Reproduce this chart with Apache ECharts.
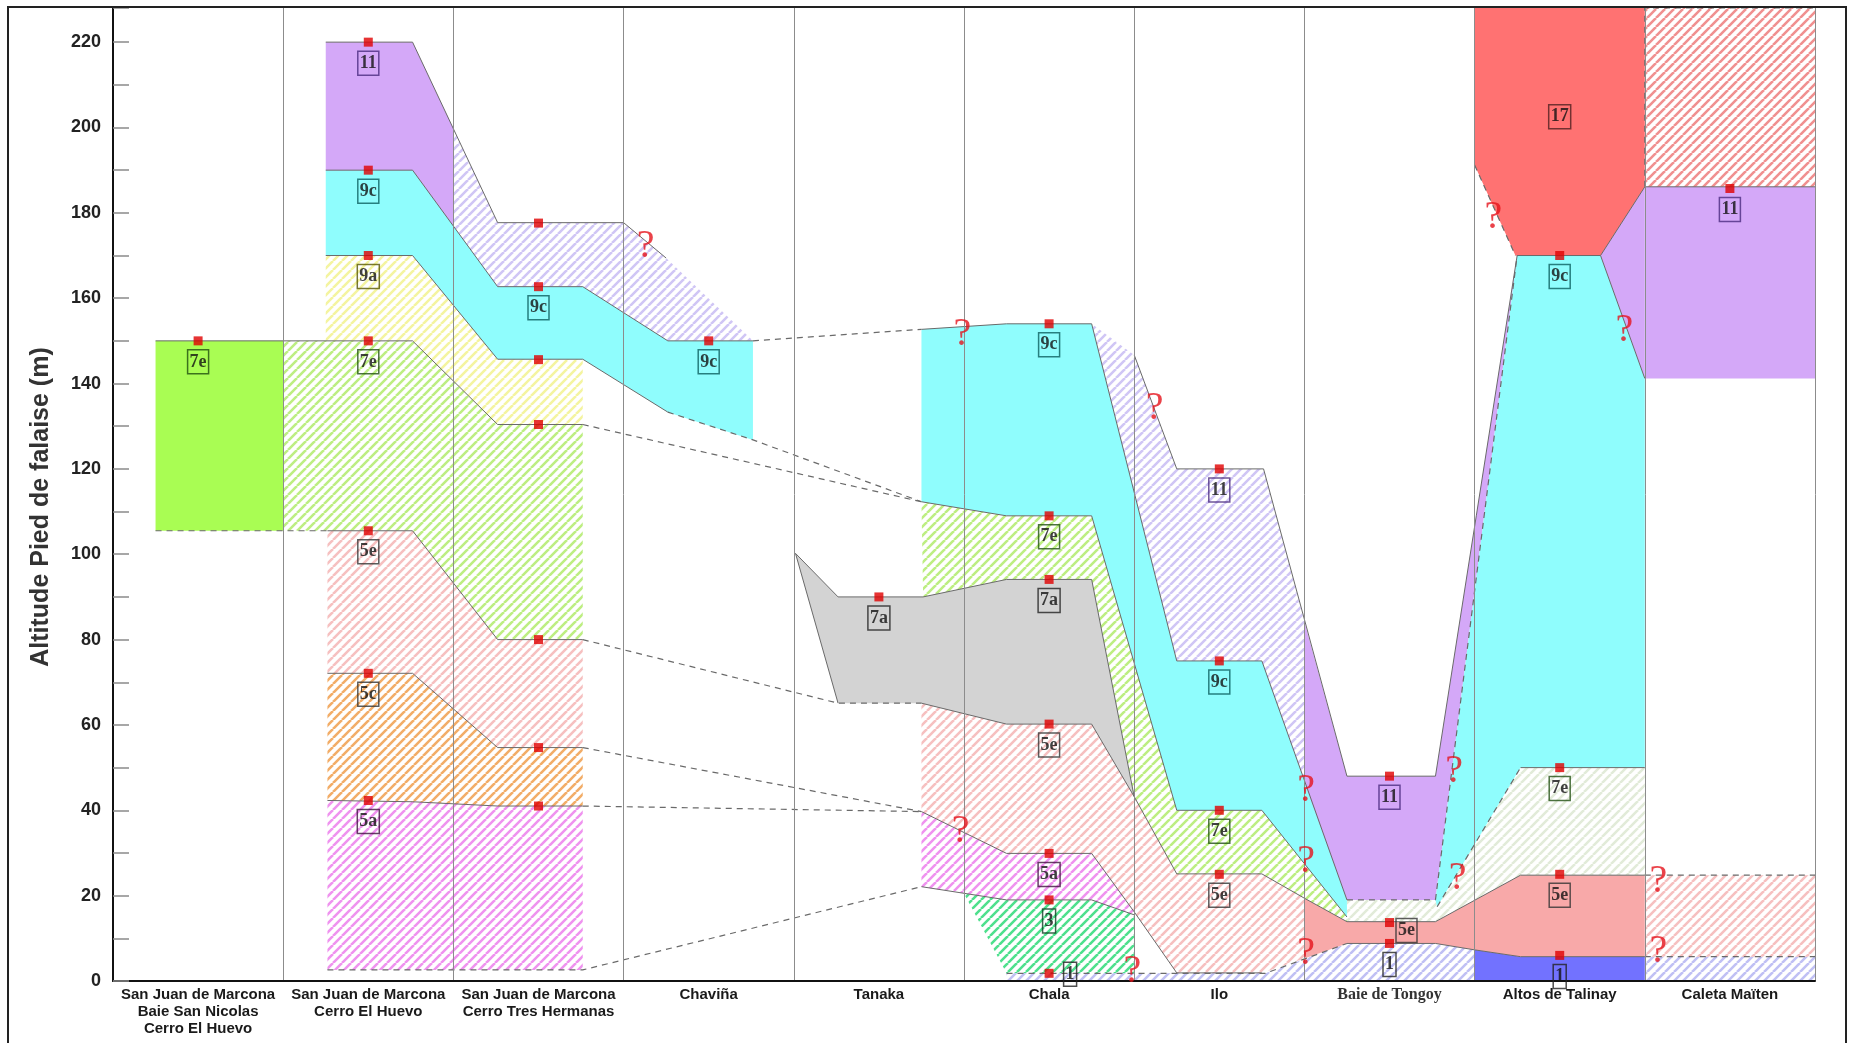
<!DOCTYPE html>
<html>
<head>
<meta charset="utf-8">
<script src="https://cdn.jsdelivr.net/npm/echarts@6/dist/echarts.min.js"></script>
<style>html,body{margin:0;padding:0;background:#fff}#c{width:1851px;height:1043px}</style>
</head>
<body>
<div id="c"></div>
<script>
// ---------- categories / axis ----------
const sites = ['San Juan de Marcona\nBaie San Nicolas\nCerro El Huevo', 'San Juan de Marcona\nCerro El Huevo',
  'San Juan de Marcona\nCerro Tres Hermanas', 'Chaviña', 'Tanaka', 'Chala', 'Ilo', 'Baie de Tongoy',
  'Altos de Talinay', 'Caleta Maïten'];
const yMax = 228;
const yName = 'Altitude Pied de falaise (m)';

// ---------- layer outlines (x in site units: site i spans [i, i+1]; y in m) ----------
const P7eBaie = [[0.25,150],[1,150],[1,105.5],[0.25,105.5]];
const P7eHuevo = [[1,150],[1.76,150],[2.26,130.4],[2.76,130.4],[2.76,80],[2.26,80],[1.76,105.5],[1,105.5]];
const P9aNorth = [[1.25,170],[1.76,170],[2.26,145.7],[2.76,145.7],[2.76,130.4],[2.26,130.4],[1.76,150],[1.25,150]];
const P9cNorth = [[1.25,190],[1.76,190],[2.26,162.7],[2.76,162.7],[3.26,150],[3.76,150],[3.76,126.8],[3.26,133.3],[2.76,145.7],[2.26,145.7],[1.76,170],[1.25,170]];
const P11North = [[1.25,220],[1.76,220],[2.26,177.7],[3.0,177.7],[3.25,169.4],[3.76,150],[3.26,150],[2.76,162.7],[2.26,162.7],[1.76,190],[1.25,190]];
const P5eNorth = [[1.26,105.5],[1.76,105.5],[2.26,80],[2.76,80],[2.76,54.7],[2.26,54.7],[1.76,72.1],[1.26,72.1]];
const P5cNorth = [[1.26,72.1],[1.76,72.1],[2.26,54.7],[2.76,54.7],[2.76,41],[2.26,41],[1.76,42],[1.26,42.3]];
const P5aNorth = [[1.26,42.3],[1.76,42],[2.26,41],[2.76,41],[2.76,2.6],[1.26,2.6]];
const P7a = [[4.01,100.2],[4.26,90],[4.76,90],[5.25,94.1],[5.75,94.1],[6.0,43.2],[5.75,60.2],[5.25,60.2],[4.75,65.1],[4.26,65.1]];
const P9cSouth = [[4.75,152.7],[5.25,154],[5.75,154],[6.25,75],[6.75,75],[7.25,19],[7.25,15],[6.75,40],[6.25,40],[5.75,109],[5.25,109],[4.75,112.3]];
const P7eSouth = [[4.75,112.3],[5.25,109],[5.75,109],[6.25,40],[6.75,40],[7.25,15],[7.25,13.9],[7.0,19.4],[6.75,25.1],[6.25,25.1],[6.0,43.2],[5.75,94.1],[5.25,94.1],[4.76,90]];
const P5eSouth = [[4.75,65.1],[5.25,60.2],[5.75,60.2],[6.0,43.2],[6.25,25.1],[6.75,25.1],[7.0,19.4],[7.0,5.3],[6.75,1.9],[6.25,1.9],[6.0,16.2],[5.75,29.9],[5.25,29.9],[4.75,39.7]];
const P5aSouth = [[4.75,39.7],[5.25,29.9],[5.75,29.9],[6.0,16.2],[6.0,15.5],[5.75,19],[5.25,19],[4.75,22.1]];
const P3Chala = [[5.0,20.5],[5.25,19],[5.75,19],[6.0,15.5],[6.25,1.8],[5.25,1.8]];
const P1Hatch = [[5.25,1.8],[6.77,1.8],[7.25,8.8],[7.77,8.8],[8.0,7.3],[8.0,0],[5.25,0]];
const P1Caleta = [[9,5.7],[10,5.7],[10,0],[9,0]];
const P1Talinay = [[8,7.3],[8.27,5.7],[9,5.7],[9,0],[8,0]];
const P5eTongoy = [[7.0,19.4],[7.25,13.9],[7.77,13.9],[8.27,24.8],[9,24.8],[9,5.7],[8.27,5.7],[8.0,7.3],[7.77,8.8],[7.25,8.8],[7.0,5.3]];
const P5eCaleta = [[9,24.8],[10,24.8],[10,5.7],[9,5.7]];
const P7eTalinay = [[7.25,19],[7.77,19],[7.78,17.4],[8.27,50],[9,50],[9,24.8],[8.27,24.8],[7.77,13.9],[7.25,13.9]];
const P11Ilo = [[5.75,154],[6.0,146.7],[6.25,120],[6.76,120],[7.0,84.2],[7.0,46.6],[6.75,75],[6.25,75]];
const P11Tongoy = [[7.0,84.2],[7.25,48],[7.77,48],[8.25,170],[7.77,19],[7.25,19],[7.0,46.6]];
const P9cTalinay = [[8.25,170],[8.74,170],[9,141.2],[9,50],[8.27,50],[7.78,17.4],[7.77,19]];
const P11Talinay = [[8.74,170],[9,186.1],[10,186.1],[10,141.2],[9,141.2]];
const P17Talinay = [[8,228],[9,228],[9,186.1],[8.74,170],[8.24,170],[8,191.2]];
const P17Caleta = [[9,228],[10,228],[10,186.1],[9,186.1]];

// ---------- boundary lines ----------
const solidLines = [
  [[0.25,150],[1.76,150],[2.26,130.4],[2.76,130.4]],
  [[1.25,220],[1.76,220],[2.26,177.7],[3.0,177.7],[3.25,169.4]],
  [[1.25,190],[1.76,190],[2.26,162.7],[2.76,162.7],[3.26,150],[3.76,150]],
  [[1.25,170],[1.76,170],[2.26,145.7],[2.76,145.7],[3.26,133.3]],
  [[1.26,105.5],[1.76,105.5],[2.26,80],[2.76,80]],
  [[1.26,72.1],[1.76,72.1],[2.26,54.7],[2.76,54.7]],
  [[1.26,42.3],[1.76,42],[2.26,41],[2.76,41]],
  [[4.01,100.2],[4.26,90],[4.76,90],[5.25,94.1],[5.75,94.1],[6.0,43.2]],
  [[4.01,100.2],[4.26,65.1]],
  [[4.75,65.1],[5.25,60.2],[5.75,60.2],[6.0,43.2],[6.25,25.1],[6.75,25.1],[7.0,19.4],[7.25,13.9],[7.77,13.9],[8.27,24.8],[9,24.8]],
  [[4.75,152.7],[5.25,154],[5.75,154],[6.25,75],[6.75,75],[7.25,19]],
  [[4.75,112.3],[5.25,109],[5.75,109],[6.25,40],[6.75,40],[7.25,15]],
  [[6.0,146.7],[6.25,120],[6.76,120],[7.25,48],[7.77,48],[8.25,170],[8.74,170],[9,186.1],[10,186.1]],
  [[8.74,170],[9,141.2]],
  [[4.75,39.7],[5.25,29.9],[5.75,29.9],[6.0,16.2],[6.25,1.9],[6.75,1.9]],
  [[4.75,22.1],[5.25,19],[5.75,19],[6.0,15.5]],
  [[7.25,8.8],[7.77,8.8],[8.0,7.3],[8.27,5.7],[9,5.7]],
  [[8.27,50],[9,50]]
];
const dashedLines = [
  [[0.25,105.5],[1.26,105.5]],
  [[2.76,130.4],[4.75,112.3]],
  [[3.26,133.3],[3.76,126.8],[4.75,112.3]],
  [[3.76,150],[4.75,152.7]],
  [[2.76,80],[4.26,65.1],[4.75,65.1]],
  [[2.76,54.7],[4.75,39.7]],
  [[2.76,41],[4.75,39.7]],
  [[1.26,2.6],[2.76,2.6],[4.75,22.1]],
  [[5.25,1.8],[6.77,1.8],[7.25,8.8]],
  [[7.25,19],[7.77,19]],
  [[7.77,19],[8.25,170]],
  [[7.78,17.4],[8.27,50]],
  [[8.0,191.2],[8.24,170]],
  [[9,186.1],[9,228],[10,228]],
  [[9,24.8],[10,24.8]],
  [[9,5.7],[10,5.7]]
];

// ---------- sampled points, unit tags, question marks ----------
const markers = [[0.5,150],[1.5,220],[1.5,190],[1.5,170],[1.5,150],[1.5,105.5],[1.5,72.1],[1.5,42.3],
  [2.5,177.6],[2.5,162.7],[2.5,145.6],[2.5,130.4],[2.5,80],[2.5,54.7],[2.5,41],[3.5,150],[4.5,90],
  [5.5,154],[5.5,109],[5.5,94.1],[5.5,60.2],[5.5,29.9],[5.5,19],[5.5,1.8],
  [6.5,120],[6.5,75],[6.5,40],[6.5,25],[7.5,48],[7.5,13.7],[7.5,8.8],
  [8.5,170],[8.5,50],[8.5,25],[8.5,6],[9.5,185.7]];
const tags = [
  [0.5,150,'7e','b'],
  [1.5,220,'11','b'],[1.5,190,'9c','b'],[1.5,170,'9a','b'],[1.5,150,'7e','b'],[1.5,105.5,'5e','b'],[1.5,72.1,'5c','b'],[1.5,42.3,'5a','b'],
  [2.5,162.7,'9c','b'],[3.5,150,'9c','b'],[4.5,90,'7a','b'],
  [5.5,154,'9c','b'],[5.5,109,'7e','b'],[5.5,94.1,'7a','b'],[5.5,60.2,'5e','b'],[5.5,29.9,'5a','b'],[5.5,19,'3','b'],[5.5,1.8,'1','r1'],
  [6.5,120,'11','b'],[6.5,75,'9c','b'],[6.5,40,'7e','b'],[6.5,25,'5e','b'],
  [7.5,48,'11','b'],[7.5,13.7,'5e','r2'],[7.5,8.8,'1','b'],
  [8.5,202.5,'17','c'],[8.5,170,'9c','b'],[8.5,50,'7e','b'],[8.5,25,'5e','b'],[8.5,6,'1','b'],
  [9.5,185.7,'11','b']];
const qmarks = [[3.13,172],[4.99,151.5],[4.98,35],[6.12,134.2],[5.99,2.2],[7.01,44.7],[7.01,28],[7.01,6.5],
  [7.88,49],[7.9,24],[8.11,179],[8.88,152.5],[9.08,23.3],[9.08,6.9]];

// ---------- styles ----------
const solidColor = {'11':'#d4a8f8','9c':'#8ffdfd','7e':'#a9fd53','7a':'#d3d3d3','5e':'#f8a9a9','1':'#7272ff','17':'#ff7272'};
const hatchColor = {'11':'#d0c6f5','9a':'#f4f4a0','7e':'#bdee82','7eL':'#e2ebd9','5e':'#f6c0c0','5c':'#f2ad68','5a':'#ef93ef','3':'#4ee08d','1':'#c0c0f4','17':'#f09090'};
const tagBorder = {'11':'#4a2a80','9c':'#0b5f5f','9a':'#555500','7e':'#1f4f0f','7a':'#222','5e':'#333','5c':'#333','5a':'#401040','3':'#0b4020','1':'#222','17':'#502020'};
const tagOffset = {b:[0,21], c:[0,0], r1:[21,1], r2:[17,8]};

function hatch(color){
  const s = 9, c = document.createElement('canvas'); c.width = s; c.height = s;
  const g = c.getContext('2d'); g.strokeStyle = color; g.lineWidth = 2.6;
  g.beginPath(); for (const k of [-1,0,1]) { g.moveTo(k*s, s); g.lineTo(k*s + s, 0); } g.stroke();
  return {image: c, repeat: 'repeat'};
}
const S = k => solidColor[k], H = k => hatch(hatchColor[k]);

const layers = [
  {pts:P7eBaie, cols:{0:S('7e')}},
  {pts:P7eHuevo, cols:{1:H('7e'),2:H('7e')}},
  {pts:P9aNorth, cols:{1:H('9a'),2:H('9a')}},
  {pts:P9cNorth, cols:{1:S('9c'),2:S('9c'),3:S('9c')}},
  {pts:P11North, cols:{1:S('11'),2:H('11'),3:H('11')}},
  {pts:P5eNorth, cols:{1:H('5e'),2:H('5e')}},
  {pts:P5cNorth, cols:{1:H('5c'),2:H('5c')}},
  {pts:P5aNorth, cols:{1:H('5a'),2:H('5a')}},
  {pts:P7a, cols:{4:S('7a'),5:S('7a')}},
  {pts:P9cSouth, cols:{4:S('9c'),5:S('9c'),6:S('9c'),7:S('9c')}},
  {pts:P7eSouth, cols:{4:H('7e'),5:H('7e'),6:H('7e'),7:H('7e')}},
  {pts:P5eSouth, cols:{4:H('5e'),5:H('5e'),6:H('5e')}},
  {pts:P5aSouth, cols:{4:H('5a'),5:H('5a')}},
  {pts:P3Chala, cols:{5:H('3')}},
  {pts:P1Hatch, cols:{5:H('1'),6:H('1'),7:H('1')}},
  {pts:P1Caleta, cols:{9:H('1')}},
  {pts:P1Talinay, cols:{8:S('1')}},
  {pts:P5eTongoy, cols:{7:S('5e'),8:S('5e')}},
  {pts:P5eCaleta, cols:{9:H('5e')}},
  {pts:P7eTalinay, cols:{7:H('7eL'),8:H('7eL')}},
  {pts:P11Ilo, cols:{5:H('11'),6:H('11')}},
  {pts:P11Tongoy, cols:{7:S('11'),8:S('11')}},
  {pts:P9cTalinay, cols:{7:S('9c'),8:S('9c')}},
  {pts:P11Talinay, cols:{8:S('11'),9:S('11')}},
  {pts:P17Talinay, cols:{8:S('17')}},
  {pts:P17Caleta, cols:{9:H('17')}}
];

function clipHalf(pts, inside, xc){
  const res = [];
  for (let i = 0; i < pts.length; i++) {
    const cur = pts[i], prev = pts[(i + pts.length - 1) % pts.length];
    const ci = inside(cur), pi = inside(prev);
    const inter = () => [xc, prev[1] + (cur[1]-prev[1]) * (xc-prev[0]) / (cur[0]-prev[0])];
    if (ci) { if (!pi) res.push(inter()); res.push(cur); }
    else if (pi) res.push(inter());
  }
  return res;
}
const pieces = [];
layers.forEach(L => {
  Object.keys(L.cols).forEach(ck => {
    const a = +ck, b = a + 1;
    let p = clipHalf(L.pts, q => q[0] >= a - 1e-9, a);
    p = clipHalf(p, q => q[0] <= b + 1e-9, b);
    if (p.length >= 3) pieces.push({pts: p, fill: L.cols[ck]});
  });
});

const series = [];
series.push({
  type:'custom', xAxisIndex:0, yAxisIndex:0, z:1, silent:true,
  data: pieces.map((p, i) => [p.pts[0][0], p.pts[0][1], i]),
  encode:{x:0, y:1},
  renderItem: (params, api) => {
    const pc = pieces[params.dataIndex];
    return {type:'polygon', shape:{points: pc.pts.map(q => api.coord(q))}, style:{fill: pc.fill, stroke: null}};
  }
});
solidLines.forEach(l => series.push({type:'line', xAxisIndex:0, data:l, symbol:'none', silent:true, z:3,
  lineStyle:{color:'#6a6a6a', width:1}}));
dashedLines.forEach(l => series.push({type:'line', xAxisIndex:0, data:l, symbol:'none', silent:true, z:3,
  lineStyle:{color:'#6a6a6a', width:1.2, type:[6,5]}}));
series.push({type:'scatter', xAxisIndex:0, data:markers, symbol:'rect', symbolSize:9, silent:true, z:6,
  itemStyle:{color:'#e00000'}});
series.push({type:'scatter', xAxisIndex:0, symbolSize:1, silent:true, z:7, itemStyle:{color:'rgba(0,0,0,0)'},
  data: tags.map(t => ({value:[t[0], t[1]], label:{formatter:t[2], offset:tagOffset[t[3]], borderColor:tagBorder[t[2]]}})),
  label:{show:true, position:'inside', fontFamily:'Liberation Serif', fontWeight:'bold', fontSize:18, color:'#111',
    borderWidth:1.5, padding:[2,2,1,2], lineHeight:21}});
series.push({type:'scatter', xAxisIndex:0, symbolSize:1, silent:true, z:7, itemStyle:{color:'rgba(0,0,0,0)'},
  data: qmarks, label:{show:true, position:'inside', formatter:'?', fontFamily:'Liberation Serif', fontSize:40, color:'#e5131c'}});

const chart = echarts.init(document.getElementById('c'), null, {renderer:'canvas'});
chart.setOption({
  animation:false,
  backgroundColor:'#ffffff',
  grid:{left:113, right:36, top:8, bottom:62},
  xAxis:[
    {type:'value', min:0, max:10, interval:1, position:'bottom', z:4,
      axisLine:{show:true, onZero:false, lineStyle:{color:'#111', width:2}},
      axisTick:{show:false}, axisLabel:{show:false},
      splitLine:{show:true, lineStyle:{color:'#8c8c8c', width:1}}},
    {type:'category', data:sites, position:'bottom', boundaryGap:true,
      axisLine:{show:false}, axisTick:{show:false}, splitLine:{show:false},
      axisLabel:{interval:0, margin:5, fontFamily:'Liberation Sans', fontWeight:'bold', fontSize:15, lineHeight:17, color:'#1a1a1a',
        formatter: v => v === 'Baie de Tongoy' ? '{s|' + v + '}' : v,
        rich:{s:{fontFamily:'Liberation Serif', fontWeight:'bold', fontSize:16, color:'#333'}}}}
  ],
  yAxis:{type:'value', min:0, max:yMax, interval:10, z:5,
    axisLine:{show:true, lineStyle:{color:'#111', width:2}},
    axisTick:{show:true, inside:true, length:16, lineStyle:{color:'#8a8a8a', width:1.5}},
    axisLabel:{margin:12, fontFamily:'Liberation Sans', fontWeight:'bold', fontSize:18, color:'#222',
      formatter: v => (v % 20 === 0 && v <= 220) ? String(v) : ''},
    splitLine:{show:false}},
  graphic:[
    {type:'rect', silent:true, z:100, shape:{x:8, y:7, width:1838, height:1050}, style:{fill:null, stroke:'#222', lineWidth:2}},
    {type:'text', silent:true, z:100, x:41, y:507, rotation:Math.PI/2,
      style:{text:yName, font:'bold 25px "Liberation Sans"', fill:'#333', align:'center', verticalAlign:'middle',
        textAlign:'center', textVerticalAlign:'middle', shadowColor:'rgba(0,0,0,0.45)', shadowBlur:4, shadowOffsetX:2, shadowOffsetY:2}}
  ],
  series: series
});
</script>
</body>
</html>
